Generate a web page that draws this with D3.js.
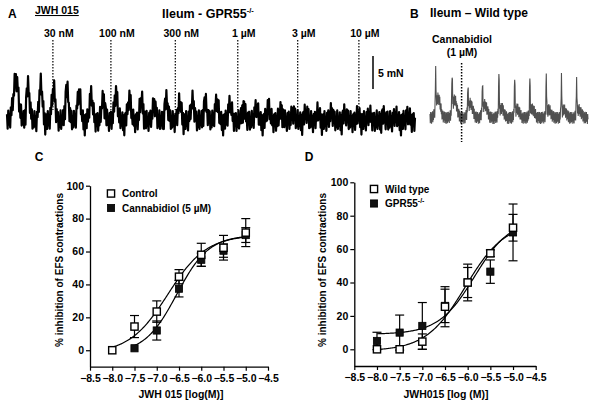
<!DOCTYPE html>
<html><head><meta charset="utf-8">
<script src="https://cdn.jsdelivr.net/npm/d3@7"></script>
<style>
body{margin:0;background:#fff;}
svg{display:block;font-family:"Liberation Sans",Arial,sans-serif;font-weight:bold;}
</style></head>
<body><svg id="fig" width="600" height="406"></svg>
<script>
// ---------- Panel A data (trace, Ileum GPR55-/-) ----------
const concLabels = ["30 nM","100 nM","300 nM","1 µM","3 µM","10 µM"];
const concTimes  = [72, 163, 264, 362, 456, 552];          // s, drug additions
const peakTimesA = [14,33,53,73,94,113,132,151,171,192,211,231,250,271,291,311,329,350,371,391,410,430,449,469,488,509,530,551,569,590,609,629]; // s
const peakAmpA   = [6.4,5.3,5.6,5.0,4.8,4.3,3.9,3.5,4.3,3.4,3.4,2.6,3.2,2.8,3.1,2.8,3.0,2.6,2.1,2.1,2.1,1.7,1.3,1.3,1.3,1.3,1.1,0.9,0.9,0.8,0.8,0.8]; // mN
const noiseA     = [1.0,-1.2,1.5,-0.7,0.3,-1.5,1.2,-0.5,1.4,-1.3,0.2,-1.0,1.5,-0.8,0.7,-1.7,1.0,-0.3,1.2,-1.5,0.5,-0.9,1.6,-1.2,0.3,-0.7,1.3,-1.4,0.8,-2.2,0.9]; // mN

// ---------- Panel B data (trace, Ileum wild type) ----------
const cbdTimeB    = 50;   // s
const spikeTimesB = [9,35,60,83,109,134,158,184,208,232];
const spikeAmpB   = [5.5,5.5,4.1,4.7,6.5,6.0,5.5,5.5,5.3,5.3];
const humpAmpB    = [3.0,2.7,2.2,2.0,1.5,1.3,1.3,1.2,1.2,1.2];
const noiseB      = [0.6,-0.8,0.9,-0.5,0.3,-0.9,0.8,-0.3,0.9,-0.8,0.2,-0.6,0.9,-0.5,0.5,-0.9,0.6,-0.2,0.8,-0.9,0.3,-0.5,0.9];

// ---------- Panel C data ----------
const logConc = [-8.0,-7.5,-7.0,-6.5,-6.0,-5.5,-5.0];
const controlMean = [0,14.4,23.5,44.7,58,62.3,71.5];
const controlSem  = [0,6.7,6.5,4.3,7,7.5,8.5];
const cbdConc = [-7.5,-7.0,-6.5,-6.0,-5.5,-5.0];
const cbdMean = [1.2,12,37.4,55,60.5,70];
const cbdSem  = [0,5.8,5,4,4,4.5];
// fitted sigmoid parameters [bottom, top, logEC50, hill]
const fitControl = [-2,70,-6.75,1.0];
const fitCbd     = [-2,70,-6.55,1.2];

// ---------- Panel D data ----------
const wtMean  = [0,0,4.6,25.5,40,57.5,72.8];
const wtSem   = [0,0,4.6,12,11,2,8];
const gprMean = [5,10,14,26,40,46.5,70];
const gprSem  = [5.2,10.5,14,10,9,7,17];
const fitWt  = [-1,76,-6.05,1.0];
const fitGpr = [9,78,-5.85,1.1];

const xTicks = [-8.5,-8.0,-7.5,-7.0,-6.5,-6.0,-5.5,-5.0,-4.5];
const yTicks = [0,20,40,60,80,100];

const svg = d3.select("#fig");
const FS = 10;

// ================= Panel A =================
const xA = d3.scaleLinear().domain([0,640]).range([7,415]);
const yA = d3.scaleLinear().domain([0,5]).range([121,88]);
const tA = d3.range(0,641,1);
const valA = tA.map((t,i)=>{
  let v = 0;
  peakTimesA.forEach((p,k)=>{
    const w = k===0 ? 4.0 : 2.6;
    const d = t-p;
    v += peakAmpA[k]*Math.exp(-(d*d)/(2*w*w));
  });
  return v + noiseA[i % noiseA.length];
});
svg.append("path")
  .attr("d", d3.line().x((d,i)=>xA(tA[i])).y(d=>yA(d))(valA))
  .attr("fill","none").attr("stroke","#000").attr("stroke-width",2.2).attr("stroke-linejoin","round");

concTimes.forEach((t,i)=>{
  svg.append("line").attr("x1",xA(t)).attr("x2",xA(t)).attr("y1",40).attr("y2",110)
    .attr("stroke","#000").attr("stroke-width",1.2).attr("stroke-dasharray","1.5,1.5");
  svg.append("text").attr("x",xA(t)+6).attr("y",37).attr("text-anchor","middle")
    .attr("font-size",10.5).text(concLabels[i]);
});
// scale bar 5 mN
svg.append("line").attr("x1",373).attr("x2",373).attr("y1",yA(4.85)).attr("y2",yA(9.85))
  .attr("stroke","#000").attr("stroke-width",1.5);
svg.append("text").attr("x",378).attr("y",77).attr("font-size",10.5).text("5 mN");

svg.append("text").attr("x",8).attr("y",18).attr("font-size",12).text("A");
svg.append("text").attr("x",35).attr("y",14).attr("font-size",10.5)
  .style("text-decoration","underline").text("JWH 015");
const tA1 = svg.append("text").attr("x",162).attr("y",18).attr("font-size",12.5).text("Ileum - GPR55");
tA1.append("tspan").attr("font-size",7.5).attr("dy",-5).text("-/-");

// ================= Panel B =================
svg.append("text").attr("x",410).attr("y",18).attr("font-size",12).text("B");
svg.append("text").attr("x",430).attr("y",17).attr("font-size",12).text("Ileum – Wild type");
const xB = d3.scaleLinear().domain([0,250]).range([430,588]);
const yB = d3.scaleLinear().domain([0,5]).range([118,85]);
const tB = d3.range(0,250.5,0.5);
const valB = tB.map((t,i)=>{
  let v = 0;
  spikeTimesB.forEach((p,k)=>{
    const d = t-p;
    v += spikeAmpB[k]*Math.exp(-(d*d)/(2*0.5*0.5));
    const d2 = t-(p+4);
    v += humpAmpB[k]*Math.exp(-(d2*d2)/(2*3.5*3.5));
  });
  return v + noiseB[i % noiseB.length];
});
svg.append("path")
  .attr("d", d3.line().x((d,i)=>xB(tB[i])).y(d=>yB(d))(valB))
  .attr("fill","none").attr("stroke","#505050").attr("stroke-width",1.1);
svg.append("line").attr("x1",xB(cbdTimeB)).attr("x2",xB(cbdTimeB)).attr("y1",63).attr("y2",142)
  .attr("stroke","#000").attr("stroke-width",1.5).attr("stroke-dasharray","1.5,1.5");
svg.append("text").attr("x",462).attr("y",43).attr("text-anchor","middle").attr("font-size",10.5).text("Cannabidiol");
svg.append("text").attr("x",462).attr("y",56).attr("text-anchor","middle").attr("font-size",10.5).text("(1 µM)");

// ================= Dose-response panels =================
function sigmoid(p,x){ return p[0] + (p[1]-p[0])/(1+Math.pow(10,(p[2]-x)*p[3])); }

function drPanel(opt){
  const x = d3.scaleLinear().domain([-8.5,-4.5]).range(opt.xr);
  const y = d3.scaleLinear().domain([-10,100]).range(opt.yr);
  const g = svg.append("g");
  const xAxis = g.append("g").attr("transform",`translate(0,${opt.yr[0]})`)
    .call(d3.axisBottom(x).tickValues(xTicks).tickFormat(d3.format(".1f")).tickSize(4).tickPadding(4).tickSizeOuter(0));
  const yAxis = g.append("g").attr("transform",`translate(${opt.xr[0]},0)`)
    .call(d3.axisLeft(y).tickValues(yTicks).tickSize(4).tickPadding(2).tickSizeOuter(0));
  [xAxis,yAxis].forEach(a=>{
    a.select(".domain").attr("stroke","#000").attr("stroke-width",1.3);
    a.selectAll(".tick line").attr("stroke","#000").attr("stroke-width",1.2);
    a.selectAll("text").attr("font-size",10.5).attr("font-weight","bold").attr("fill","#000")
      .attr("font-family","Liberation Sans, Arial, sans-serif");
  });
  // labels
  svg.append("text").attr("x",opt.letterX).attr("y",161).attr("font-size",12).attr("text-anchor","middle").text(opt.letter);
  svg.append("text").attr("transform",`translate(${opt.yTitleX},270) rotate(-90)`)
    .attr("text-anchor","middle").attr("font-size",FS).text("% inhibition of EFS contractions");
  svg.append("text").attr("x",opt.xTitleX).attr("y",398).attr("text-anchor","middle").attr("font-size",10.5).text(opt.xTitle);

  // curves
  opt.series.forEach(s=>{
    const xs = d3.range(s.curveFrom, -4.999, 0.02);
    g.append("path").attr("d", d3.line().x(d=>x(d)).y(d=>y(sigmoid(s.fit,d)))(xs))
      .attr("fill","none").attr("stroke","#000").attr("stroke-width",1.2);
  });
  // error bars
  opt.series.forEach(s=>{
    s.xs.forEach((xv,i)=>{
      const m = s.mean[i], e = s.sem[i];
      if(e<=0) return;
      const cx = x(xv);
      g.append("line").attr("x1",cx).attr("x2",cx).attr("y1",y(m-e)).attr("y2",y(m+e)).attr("stroke","#000").attr("stroke-width",1.2);
      [m-e,m+e].forEach(v=>g.append("line").attr("x1",cx-4.5).attr("x2",cx+4.5).attr("y1",y(v)).attr("y2",y(v)).attr("stroke","#000").attr("stroke-width",1.2));
    });
  });
  // markers: filled first, open on top
  opt.series.slice().reverse().forEach(s=>{
    s.xs.forEach((xv,i)=>{
      g.append("rect").attr("x",x(xv)-3.6).attr("y",y(s.mean[i])-3.6).attr("width",7.2).attr("height",7.2)
        .attr("fill",s.filled?"#111":"#fff").attr("stroke","#000").attr("stroke-width",s.filled?0.8:1.4);
    });
  });
  // legend
  opt.series.forEach((s,i)=>{
    const ly = opt.legY + i*14.5;
    svg.append("rect").attr("x",opt.legX-3.6).attr("y",ly-3.6).attr("width",7.2).attr("height",7.2)
      .attr("fill",s.filled?"#111":"#fff").attr("stroke","#000").attr("stroke-width",s.filled?0.8:1.4);
    const t = svg.append("text").attr("x",opt.legX+11).attr("y",ly+3.6).attr("font-size",FS).text(s.name);
    if(s.sup) t.append("tspan").attr("font-size",7).attr("dy",-4).text(s.sup);
  });
}

drPanel({
  xr:[90,268], yr:[366.7,185.7], letter:"C", letterX:39, yTitleX:63, xTitleX:181,
  xTitle:"JWH 015 [log(M)]", legX:111, legY:193.5,
  series:[
    {name:"Control", xs:logConc, mean:controlMean, sem:controlSem, fit:fitControl, filled:false, curveFrom:-8},
    {name:"Cannabidiol (5 µM)", xs:cbdConc, mean:cbdMean, sem:cbdSem, fit:fitCbd, filled:true, curveFrom:-7.5}
  ]
});
drPanel({
  xr:[354.3,535.7], yr:[366,182.3], letter:"D", letterX:309, yTitleX:326, xTitleX:446,
  xTitle:"JWH015 [log (M)]", legX:374, legY:189,
  series:[
    {name:"Wild type", xs:logConc, mean:wtMean, sem:wtSem, fit:fitWt, filled:false, curveFrom:-8},
    {name:"GPR55", sup:"-/-", xs:logConc, mean:gprMean, sem:gprSem, fit:fitGpr, filled:true, curveFrom:-8}
  ]
});
</script></body></html>
